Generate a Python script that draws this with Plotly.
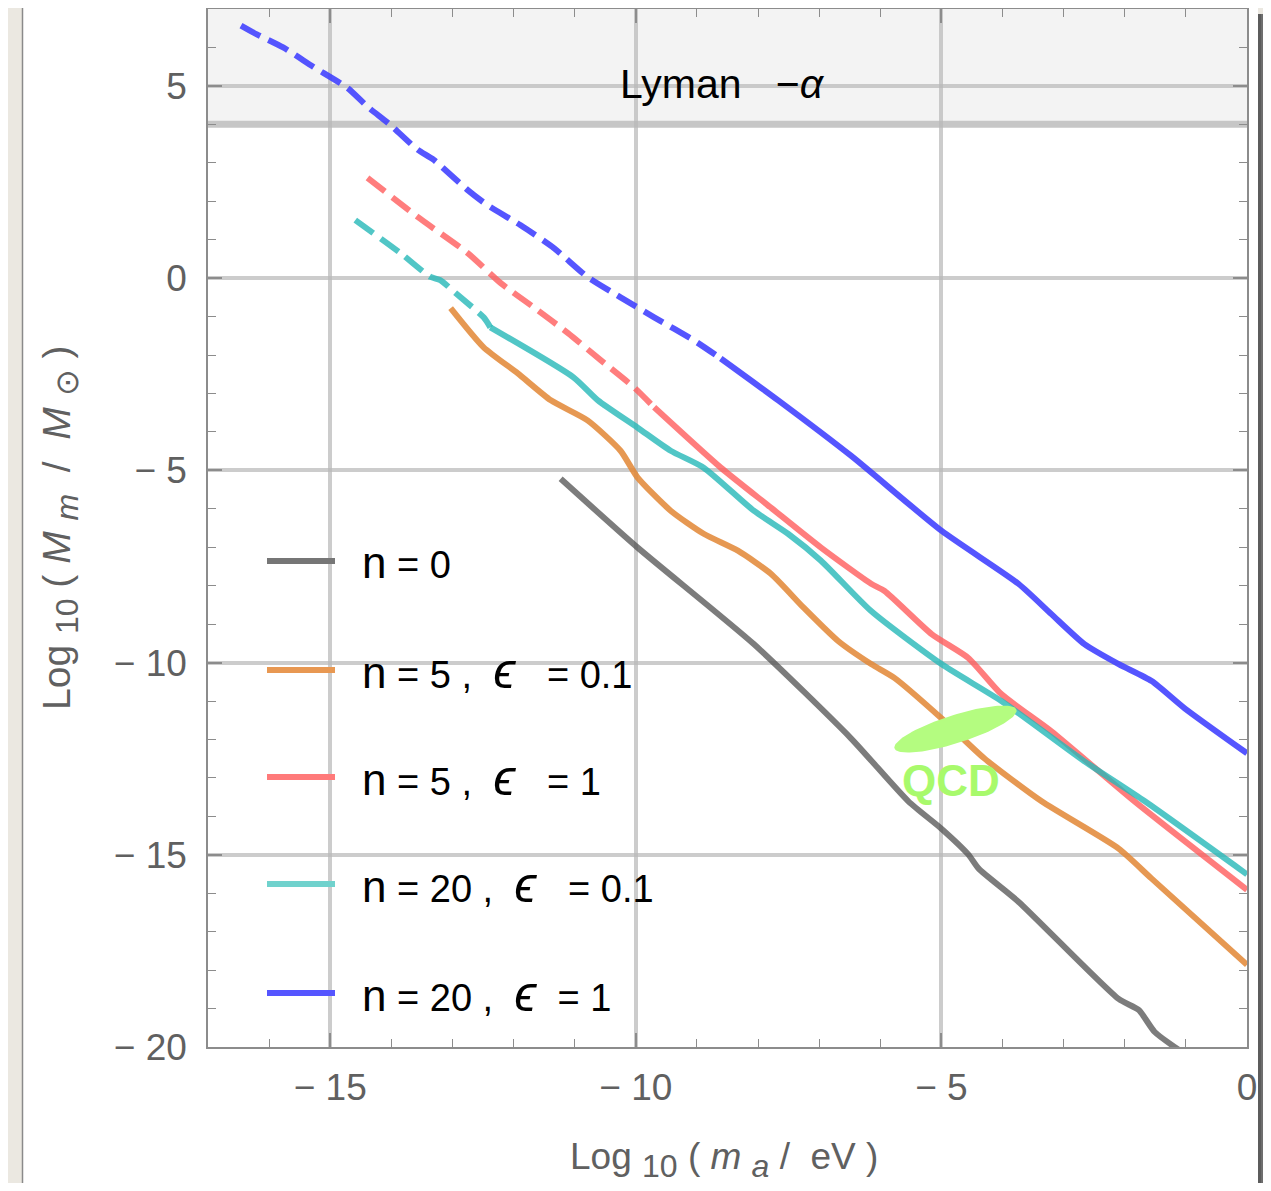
import numpy as np
import plotly.graph_objects as go

# ---------------- data ----------------
x_n0 = [-11.23, -9.97, -8.07, -6.48, -5.54, -5.0, -4.56, -4.39, -3.74, -2.10, -1.77, -1.51, -1.11]
y_n0 = [-5.22, -7.01, -9.52, -11.97, -13.61, -14.32, -14.99, -15.36, -16.22, -18.75, -19.04, -19.61, -20.08]

x_n5_e01 = [-13.03, -12.49, -11.93, -11.39, -10.79, -10.25, -9.97, -9.43, -8.89, -8.33, -7.79, -7.25,
            -6.69, -6.15, -5.77, -5.0, -4.30, -3.36, -2.10, -1.56, 0.0]
y_n5_e01 = [-0.78, -1.80, -2.48, -3.18, -3.70, -4.49, -5.19, -6.05, -6.65, -7.09, -7.69, -8.58,
            -9.44, -10.04, -10.40, -11.45, -12.49, -13.61, -14.84, -15.62, -17.86]

x_n5_e1 = [-14.39, -13.57, -12.75, -12.21, -11.67, -11.11, -10.57, -10.03, -9.70,
           -8.61, -7.79, -6.97, -6.15, -5.93, -5.16, -4.56, -4.02, -3.20, -1.84, 0.0]
y_n5_e1 = [2.61, 1.59, 0.65, -0.13, -0.76, -1.43, -2.14, -2.84, -3.36,
           -4.93, -5.97, -7.01, -7.95, -8.14, -9.26, -9.88, -10.82, -11.79, -13.61, -15.91]
split_n5_e1 = 8  # index where the dashed part ends

x_n20_e01 = [-14.59, -13.85, -13.36, -13.20, -12.95, -12.49, -12.38,
             -11.02, -10.62, -9.97, -9.43, -8.89, -8.07, -7.51, -6.97, -6.15, -5.0, -4.02, -2.66, -1.67, 0.0]
y_n20_e01 = [1.51, 0.65, 0.03, -0.05, -0.39, -1.02, -1.28,
             -2.58, -3.18, -3.89, -4.49, -4.93, -6.05, -6.65, -7.35, -8.66, -10.04, -11.0, -12.57, -13.61, -15.51]
split_n20_e01 = 6

x_n20_e1 = [-16.46, -16.20, -15.77, -15.28, -14.72, -14.39, -14.02, -13.57, -13.31, -12.75, -12.43,
            -11.89, -11.34, -10.79, -10.25, -9.70, -9.05, -8.61,
            -7.67, -6.48, -5.0, -3.74, -3.20, -2.66, -2.10, -1.56, -1.02, 0.0]
y_n20_e1 = [6.57, 6.34, 6.00, 5.50, 4.95, 4.46, 3.99, 3.34, 3.08, 2.29, 1.90,
            1.38, 0.78, 0.03, -0.50, -1.02, -1.62, -2.09,
            -3.18, -4.62, -6.57, -7.95, -8.74, -9.52, -10.04, -10.48, -11.19, -12.36]
split_n20_e1 = 17

x_ticks = [-15, -10, -5, 0]
x_ticktext = ["\u2212 15", "\u2212 10", "\u2212 5", "0"]
y_ticks = [-20, -15, -10, -5, 0, 5]
y_ticktext = ["\u2212 20", "\u2212 15", "\u2212 10", "\u2212 5", "0", "5"]

lyman_bound = 4.0
qcd_center = (-4.77, -11.73)   # data units
qcd_angle_deg = 17.6
qcd_semi_px = (64.0, 14.0)

NB = "\u00a0"
NSPAN = '<span style="font-size:44px">n</span>'
EPS = '<i><span style="font-size:50px">\u03f5</span></i>'
legend_labels = [
    f"{NSPAN} = 0",
    f"{NSPAN} = 5 ,{NB}{NB}{EPS}{NB}{NB}{NB}= 0.1",
    f"{NSPAN} = 5 ,{NB}{NB}{EPS}{NB}{NB}{NB}= 1",
    f"{NSPAN} = 20 ,{NB}{NB}{EPS}{NB}{NB}{NB}= 0.1",
    f"{NSPAN} = 20 ,{NB}{NB}{EPS}{NB}{NB}={NB}1",
]

# ---------------- geometry (page pixels; page body has an 8px margin) ----------------
OFF = 8
FIG_W, FIG_H = 1271 - 2 * OFF, 1191 - 2 * OFF
PL, PR, PT, PB = 208, 1247, 9, 1047          # plot frame on the page
ML, MT = PL - OFF, PT - OFF
MR, MB = FIG_W - (PR - OFF), FIG_H - (PB - OFF)
PW, PH = PR - PL, PB - PT
XR = [-17, 0]
YR = [-20, 7]
sx = PW / (XR[1] - XR[0])
sy = PH / (YR[1] - YR[0])

FONT = "Liberation Sans, Arial, sans-serif"
c_gray = "rgba(80,80,80,0.75)"
c_orange = "rgba(226,134,52,0.85)"
c_red = "rgba(255,88,88,0.78)"
c_teal = "rgba(38,184,184,0.8)"
c_blue = "rgba(62,62,255,0.88)"
LW = 6
DASH = "22px,9px"

fig = go.Figure()


def add_line(x, y, color, name, dash=None):
    fig.add_trace(go.Scatter(x=x, y=y, mode="lines", name=name, showlegend=False,
                             line=dict(color=color, width=LW, dash=dash, shape="spline", smoothing=0.6),
                             hoverinfo="skip"))


add_line(x_n0, y_n0, c_gray, "n = 0")
add_line(x_n5_e01, y_n5_e01, c_orange, "n = 5, eps = 0.1")
add_line(x_n5_e1[:split_n5_e1 + 1], y_n5_e1[:split_n5_e1 + 1], c_red, "n = 5, eps = 1 (dashed)", DASH)
add_line(x_n5_e1[split_n5_e1:], y_n5_e1[split_n5_e1:], c_red, "n = 5, eps = 1")
add_line(x_n20_e01[:split_n20_e01 + 1], y_n20_e01[:split_n20_e01 + 1], c_teal, "n = 20, eps = 0.1 (dashed)", DASH)
add_line(x_n20_e01[split_n20_e01:], y_n20_e01[split_n20_e01:], c_teal, "n = 20, eps = 0.1")
add_line(x_n20_e1[:split_n20_e1 + 1], y_n20_e1[:split_n20_e1 + 1], c_blue, "n = 20, eps = 1 (dashed)", DASH)
add_line(x_n20_e1[split_n20_e1:], y_n20_e1[split_n20_e1:], c_blue, "n = 20, eps = 1")

# QCD ellipse (tilted) built in pixel space, mapped to data units
t = np.linspace(0, 2 * np.pi, 120)
th = np.deg2rad(qcd_angle_deg)
a, b = qcd_semi_px
dxp = a * np.cos(t) * np.cos(th) - b * np.sin(t) * np.sin(th)
dyp = a * np.cos(t) * np.sin(th) + b * np.sin(t) * np.cos(th)
fig.add_trace(go.Scatter(x=qcd_center[0] + dxp / sx, y=qcd_center[1] + dyp / sy,
                         mode="lines", fill="toself", fillcolor="rgb(180,252,128)",
                         line=dict(width=0, color="rgb(180,252,128)"),
                         showlegend=False, hoverinfo="skip", name="QCD"))


def px2paper_x(px):
    return (px - PL) / PW


def py2paper_y(py):
    return (PB - py) / PH


shapes = []
# page card + shadow
shapes.append(dict(type="rect", xref="paper", yref="paper", layer="below",
                   x0=px2paper_x(22), x1=px2paper_x(1258), y0=py2paper_y(1200), y1=py2paper_y(7),
                   fillcolor="white", line=dict(width=0)))
shapes.append(dict(type="line", xref="paper", yref="paper", layer="below",
                   x0=px2paper_x(22.5), x1=px2paper_x(22.5), y0=py2paper_y(1200), y1=py2paper_y(7),
                   line=dict(color="#8a8a8a", width=1.5)))
for (p0, p1, col) in [(1258, 1261, "#5c5c5c"), (1261, 1264, "#6e6e6e")]:
    shapes.append(dict(type="rect", xref="paper", yref="paper", layer="below",
                       x0=px2paper_x(p0), x1=px2paper_x(p1), y0=py2paper_y(1200), y1=py2paper_y(14),
                       fillcolor=col, line=dict(width=0)))
# Lyman-alpha excluded region
shapes.append(dict(type="rect", xref="x", yref="y", layer="below",
                   x0=XR[0], x1=XR[1], y0=lyman_bound, y1=YR[1],
                   fillcolor="#f3f3f3", line=dict(width=0)))
shapes.append(dict(type="line", xref="x", yref="y", layer="below",
                   x0=XR[0], x1=XR[1] + 0.05, y0=lyman_bound, y1=lyman_bound,
                   line=dict(color="#c6c6c6", width=7)))

# manual legend
legend_colors = ["rgb(118,118,118)", "rgb(232,152,82)", "rgb(255,122,122)",
                 "rgb(112,210,205)", "rgb(85,85,255)"]
legend_py = [561, 670, 777, 884, 993]
annotations = []
for lab, col, py in zip(legend_labels, legend_colors, legend_py):
    shapes.append(dict(type="line", xref="paper", yref="paper",
                       x0=px2paper_x(267), x1=px2paper_x(335), y0=py2paper_y(py), y1=py2paper_y(py),
                       line=dict(color=col, width=6)))
    annotations.append(dict(xref="paper", yref="paper", x=px2paper_x(360), y=py2paper_y(py + 1),
                            xanchor="left", yanchor="middle", showarrow=False, text=lab,
                            font=dict(family=FONT, size=38, color="black")))

annotations.append(dict(xref="x", yref="y", x=-8.59, y=5.05, showarrow=False,
                        text=f"Lyman{NB}{NB}{NB}\u2212<i>\u03b1</i>", xanchor="center", yanchor="middle",
                        font=dict(family=FONT, size=41, color="black")))
annotations.append(dict(xref="x", yref="y", x=-4.84, y=-13.06, showarrow=False,
                        text="<b>QCD</b>", xanchor="center", yanchor="middle",
                        font=dict(family=FONT, size=44, color="rgb(168,250,108)")))
# axis titles
SUBX = '<span style="font-size:32px">{}</span>'
annotations.append(dict(xref="paper", yref="paper", x=px2paper_x(724), y=py2paper_y(1160),
                        showarrow=False, xanchor="center", yanchor="middle",
                        text=(f"Log{NB}<sub>{SUBX.format('10')}</sub>{NB}({NB}<i>m</i>{NB}"
                              f"<sub>{SUBX.format('<i>a</i>')}</sub>{NB}/{NB}{NB}eV{NB})"),
                        font=dict(family=FONT, size=37, color="#606060")))
SUBY = '<span style="font-size:32px">{}</span>'
annotations.append(dict(xref="paper", yref="paper", x=px2paper_x(60), y=py2paper_y(528),
                        showarrow=False, xanchor="center", yanchor="middle", textangle=-90,
                        text=(f"Log{NB}<sub>{SUBY.format('10')}</sub>{NB}({NB}<i>M</i>{NB}"
                              f"<sub>{SUBY.format('<i>m</i>')}</sub>{NB}{NB}/{NB}{NB}<i>M</i>{NB}"
                              f"<sub>{SUBY.format(chr(0x2299))}</sub>{NB})"),
                        font=dict(family=FONT, size=39, color="#606060")))

axis_common = dict(showline=True, linecolor="#8c8c8c", linewidth=1.5, mirror="allticks",
                   ticks="inside", ticklen=14, tickwidth=1.5, tickcolor="#8c8c8c",
                   showgrid=True, gridcolor="rgba(185,185,185,0.72)", gridwidth=4,
                   zeroline=False, tickfont=dict(family=FONT, size=37, color="#606060"),
                   minor=dict(dtick=1, tick0=0, ticks="inside", ticklen=8, tickwidth=1.2,
                              tickcolor="#8c8c8c", showgrid=False))

fig.update_layout(
    width=FIG_W, height=FIG_H,
    margin=dict(l=ML, r=MR, t=MT, b=MB, autoexpand=False),
    paper_bgcolor="#ebe8e1", plot_bgcolor="white",
    xaxis=dict(range=XR, tickvals=x_ticks, ticktext=x_ticktext, ticklabelstandoff=7, **axis_common),
    yaxis=dict(range=YR, tickvals=y_ticks, ticktext=y_ticktext, ticklabelstandoff=12, **axis_common),
    shapes=shapes, annotations=annotations,
)

fig.write_html("out.html")
